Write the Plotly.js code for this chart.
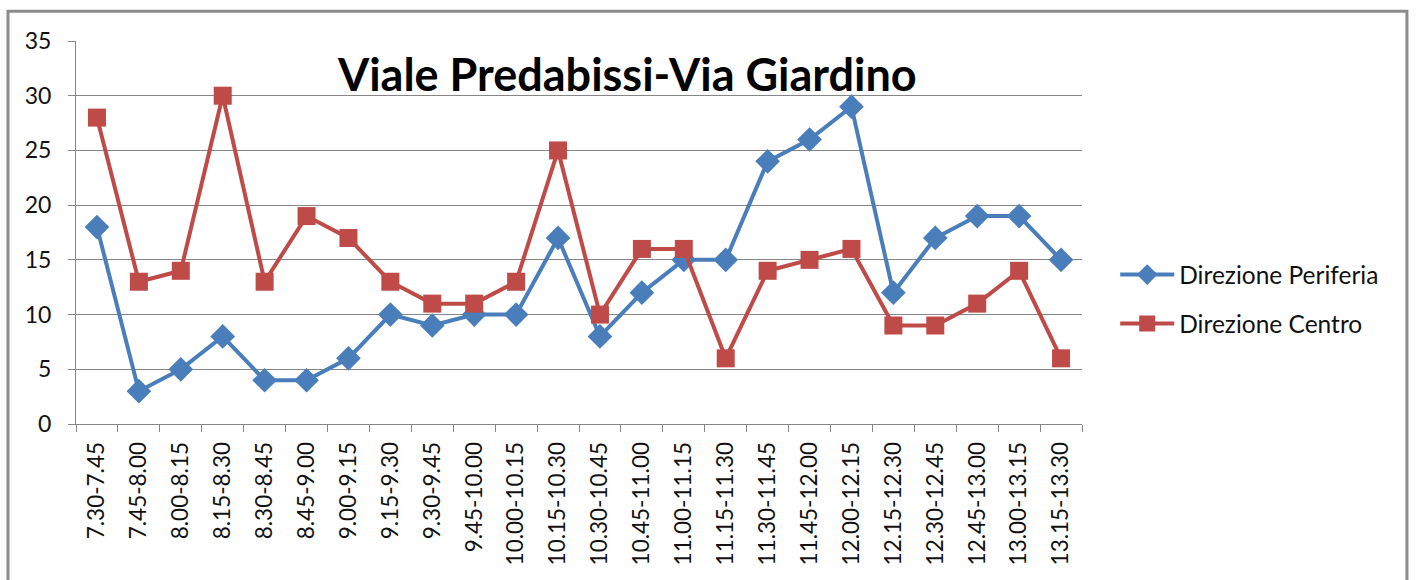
<!DOCTYPE html>
<html>
<head>
<meta charset="utf-8">
<script src="https://cdn.plot.ly/plotly-3.0.1.min.js"></script>
<style>html,body{margin:0;padding:0;background:#fff;}#chart{width:1423px;height:580px;}</style>
</head>
<body>
<div id="chart"></div>
<script>
const categories = ["7.30-7.45","7.45-8.00","8.00-8.15","8.15-8.30","8.30-8.45","8.45-9.00","9.00-9.15","9.15-9.30","9.30-9.45","9.45-10.00","10.00-10.15","10.15-10.30","10.30-10.45","10.45-11.00","11.00-11.15","11.15-11.30","11.30-11.45","11.45-12.00","12.00-12.15","12.15-12.30","12.30-12.45","12.45-13.00","13.00-13.15","13.15-13.30"];
const periferia = [18,3,5,8,4,4,6,10,9,10,10,17,8,12,15,15,24,26,29,12,17,19,19,15];
const centro = [28,13,14,30,13,19,17,13,11,11,13,25,10,16,16,6,14,15,16,9,9,11,14,6];
const yTicks = [0,5,10,15,20,25,30,35];

const FONT = "Lato, 'Open Sans', sans-serif";

const traces = [
  {x: categories, y: periferia, name: "Direzione Periferia", type: "scatter", mode: "lines+markers",
   legendgroup: "a", cliponaxis: false,
   line: {color: "#4a7ebb", width: 4}, marker: {symbol: "diamond", size: 19, color: "#4a7ebb"}},
  {x: categories, y: centro, name: "Direzione Centro", type: "scatter", mode: "lines+markers",
   legendgroup: "b", cliponaxis: false,
   line: {color: "#be4b48", width: 4}, marker: {symbol: "square", size: 18, color: "#be4b48"}}
];

const layout = {
  width: 1423, height: 580,
  margin: {l: 76, r: 341, t: 41, b: 156, pad: 0},
  paper_bgcolor: "#fff", plot_bgcolor: "#fff",
  font: {family: FONT, color: "#111", size: 22},
  title: {text: "<b>Viale Predabissi-Via Giardino</b>", font: {family: FONT, size: 45, color: "#000"},
          x: 0.548, xref: "paper", xanchor: "center", y: 0.911, yref: "paper", yanchor: "middle"},
  showlegend: true,
  legend: {x: 1.033, xref: "paper", y: 0.326, yanchor: "middle", xanchor: "left", itemwidth: 54,
           font: {family: FONT, size: 24.5, color: "#111"}, traceorder: "grouped", tracegroupgap: 14,
           bgcolor: "rgba(0,0,0,0)"},
  xaxis: {type: "category", range: [-0.5, 23.5], tickson: "boundaries", ticks: "outside", ticklen: 7, tickcolor: "#868686",
          showline: true, linecolor: "#868686", linewidth: 1, showgrid: false, tickangle: -90,
          tickfont: {family: FONT, size: 22.5, color: "#111"}, zeroline: false, ticklabelstandoff: 8},
  yaxis: {range: [0, 35], tickvals: yTicks, ticks: "outside", ticklen: 7, tickcolor: "#868686",
          showline: true, linecolor: "#868686", linewidth: 1, showgrid: true, gridcolor: "#868686", gridwidth: 1,
          zeroline: false, tickfont: {family: FONT, size: 23, color: "#111"}, ticklabelstandoff: 12},
  shapes: [
    {type: "rect", xref: "paper", yref: "paper", x0: -0.0676, x1: 1.323, y0: -0.6, y1: 1.078,
     line: {color: "#8c8c8c", width: 3}, fillcolor: "rgba(0,0,0,0)", layer: "below"}
  ]
};

Plotly.newPlot("chart", traces, layout, {displayModeBar: false, staticPlot: true});
</script>
</body>
</html>
